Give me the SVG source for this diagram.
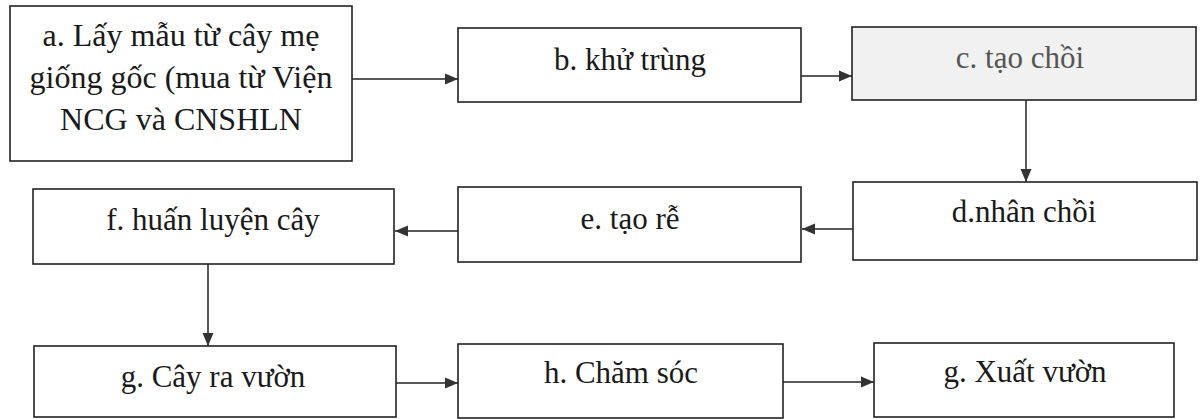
<svg xmlns="http://www.w3.org/2000/svg" width="1201" height="419" viewBox="0 0 1201 419">
<style>
.box{fill:#ffffff;stroke:#222;stroke-width:1.6}
.boxc{fill:#f1f1f1;stroke:#222;stroke-width:1.6}
.t{font-family:"Liberation Serif","Times New Roman",serif;font-size:31px;fill:#1a1a1a;text-anchor:middle}
.ta{font-size:32px}
.tc{fill:#555}
.c{stroke:#222;stroke-width:1.5;fill:none;marker-end:url(#ah)}
</style>
<defs>
<marker id="ah" markerWidth="14" markerHeight="12" refX="13" refY="6" orient="auto" markerUnits="userSpaceOnUse">
<path d="M0,0.5 L13,6 L0,11.5 z" fill="#333"/>
</marker>
</defs>
<rect width="1201" height="419" fill="#ffffff"/>
<g id="connectors">
<line class="c" x1="352" y1="79" x2="458" y2="79"/>
<line class="c" x1="801" y1="76" x2="852" y2="76"/>
<line class="c" x1="1026" y1="100" x2="1026" y2="182"/>
<line class="c" x1="853" y1="229" x2="802" y2="229"/>
<line class="c" x1="458" y1="231" x2="395" y2="231"/>
<line class="c" x1="208" y1="264" x2="208" y2="346"/>
<line class="c" x1="396" y1="383" x2="458" y2="383"/>
<line class="c" x1="783" y1="382" x2="874" y2="382"/>
</g>
<g id="node-a">
<rect class="box" x="10" y="6" width="342" height="155"/>
<text class="t ta" x="181" y="46">a. Lấy mẫu từ cây mẹ</text>
<text class="t ta" x="181" y="88">giống gốc (mua từ Viện</text>
<text class="t ta" x="181" y="130">NCG và CNSHLN</text>
</g>
<g id="node-b">
<rect class="box" x="458" y="28" width="343" height="74"/>
<text class="t" x="630" y="70">b. khử trùng</text>
</g>
<g id="node-c">
<rect class="boxc" x="852" y="27" width="344" height="73"/>
<text class="t tc" x="1020" y="68">c. tạo chồi</text>
</g>
<g id="node-d">
<rect class="box" x="853" y="182" width="344" height="78"/>
<text class="t" x="1024" y="222">d.nhân chồi</text>
</g>
<g id="node-e">
<rect class="box" x="458" y="187" width="343" height="75"/>
<text class="t" x="630" y="229">e. tạo rễ</text>
</g>
<g id="node-f">
<rect class="box" x="33" y="189" width="361" height="75"/>
<text class="t" x="213" y="230">f. huấn luyện cây</text>
</g>
<g id="node-g">
<rect class="box" x="34" y="346" width="362" height="71"/>
<text class="t" x="213" y="387">g. Cây ra vườn</text>
</g>
<g id="node-h">
<rect class="box" x="458" y="344" width="325" height="74"/>
<text class="t" x="621" y="383">h. Chăm sóc</text>
</g>
<g id="node-g2">
<rect class="box" x="874" y="343" width="300" height="74"/>
<text class="t" x="1025" y="382">g. Xuất vườn</text>
</g>
</svg>
